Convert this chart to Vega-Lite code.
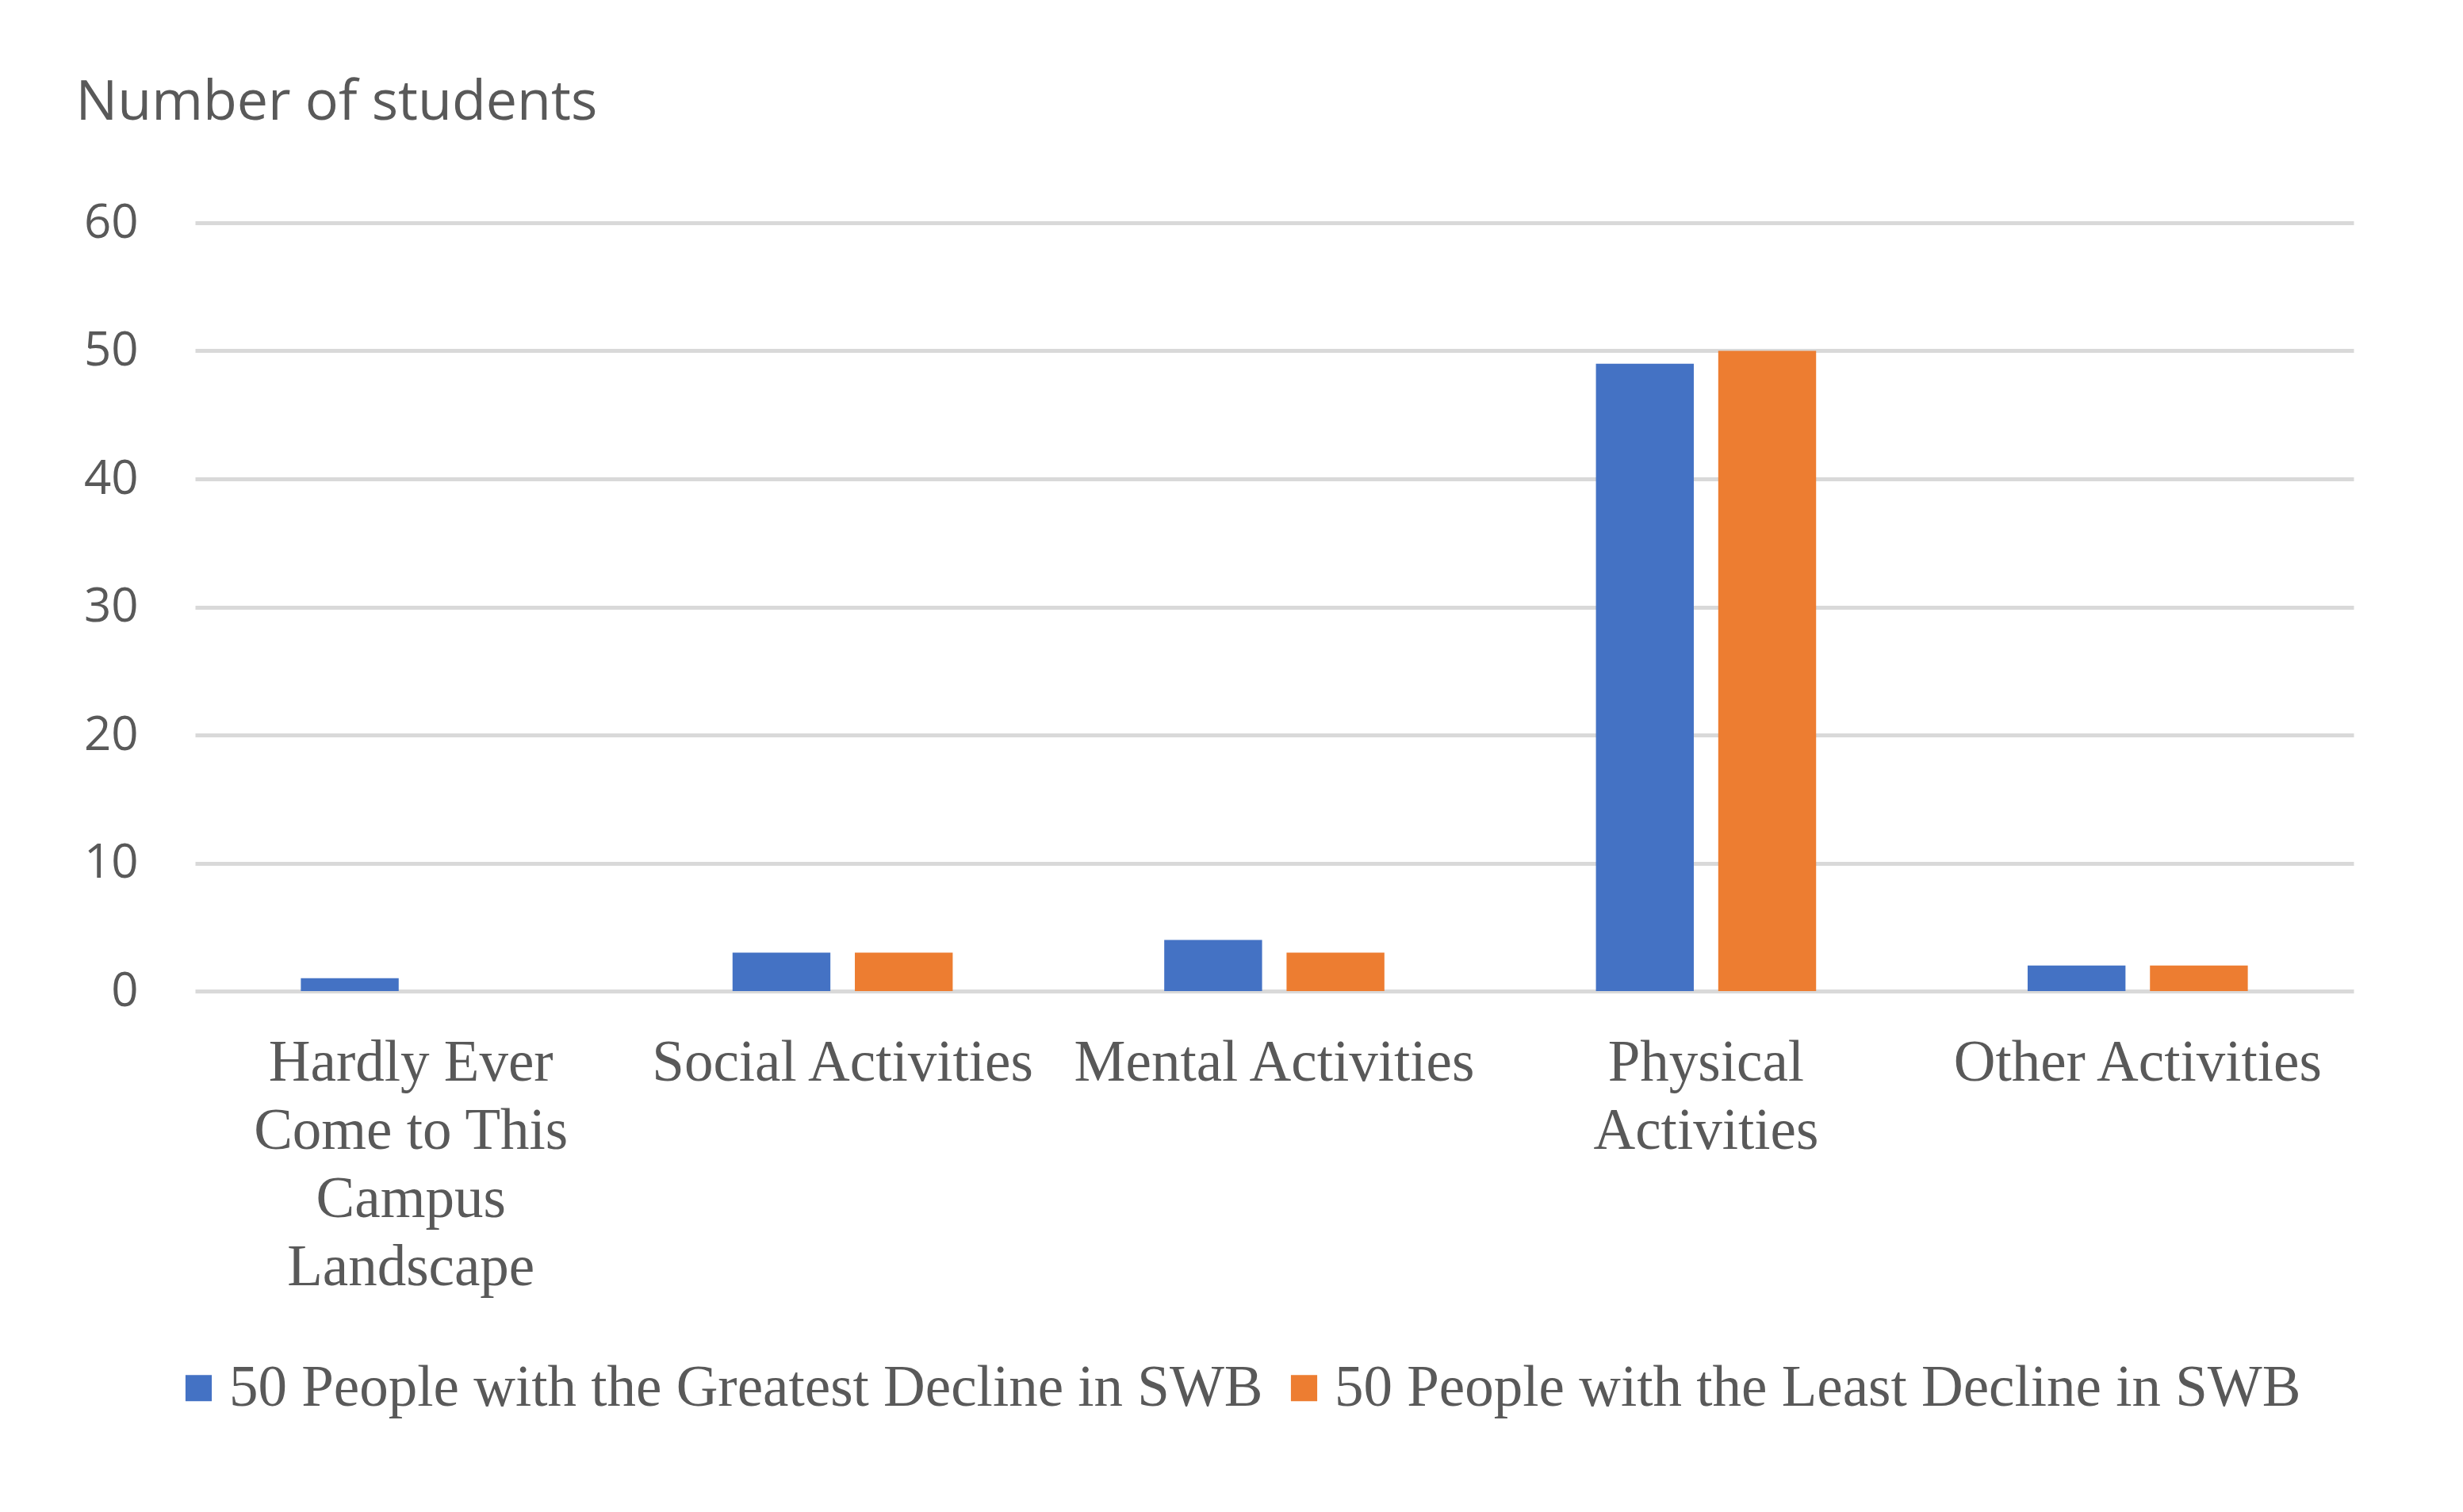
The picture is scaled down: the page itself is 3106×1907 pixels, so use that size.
{
  "$schema": "https://vega.github.io/schema/vega-lite/v6.json",
  "autosize": {"type": "none"},
  "width": 2722,
  "height": 969,
  "padding": {"left": 246, "top": 281, "right": 138, "bottom": 657},
  "background": "white",
  "data": {
    "values": [
      {"category": "Hardly Ever Come to This Campus Landscape", "group": "50 People with the Greatest Decline in SWB", "count": 1},
      {"category": "Hardly Ever Come to This Campus Landscape", "group": "50 People with the Least Decline in SWB", "count": 0},
      {"category": "Social Activities", "group": "50 People with the Greatest Decline in SWB", "count": 3},
      {"category": "Social Activities", "group": "50 People with the Least Decline in SWB", "count": 3},
      {"category": "Mental Activities", "group": "50 People with the Greatest Decline in SWB", "count": 4},
      {"category": "Mental Activities", "group": "50 People with the Least Decline in SWB", "count": 3},
      {"category": "Physical Activities", "group": "50 People with the Greatest Decline in SWB", "count": 49},
      {"category": "Physical Activities", "group": "50 People with the Least Decline in SWB", "count": 50},
      {"category": "Other Activities", "group": "50 People with the Greatest Decline in SWB", "count": 2},
      {"category": "Other Activities", "group": "50 People with the Least Decline in SWB", "count": 2}
    ]
  },
  "mark": {"type": "bar"},
  "encoding": {
    "x": {
      "field": "category",
      "type": "nominal",
      "sort": null,
      "scale": {"paddingInner": 0.49, "paddingOuter": 0.245},
      "axis": {
        "title": null,
        "labelAngle": 0,
        "labelFont": "Liberation Serif",
        "labelFontSize": 73,
        "labelColor": "#595959",
        "labelPadding": 54,
        "labelLineHeight": 86,
        "labelBaseline": "top",
        "labelLimit": 0,
        "ticks": false,
        "domain": false,
        "grid": false,
        "labelExpr": "datum.value == 'Hardly Ever Come to This Campus Landscape' ? ['Hardly Ever', 'Come to This', 'Campus', 'Landscape'] : datum.value == 'Physical Activities' ? ['Physical', 'Activities'] : datum.label"
      }
    },
    "xOffset": {
      "field": "group",
      "type": "nominal",
      "scale": {"paddingInner": 0.2, "paddingOuter": 0}
    },
    "y": {
      "field": "count",
      "type": "quantitative",
      "scale": {"domain": [0, 60], "nice": false},
      "axis": {
        "values": [0, 10, 20, 30, 40, 50, 60],
        "title": "Number of students",
        "titleAngle": 0,
        "titleAlign": "left",
        "titleBaseline": "alphabetic",
        "titleX": -151,
        "titleY": -131,
        "titleFont": "Open Sans",
        "titleFontSize": 70,
        "titleFontWeight": "normal",
        "titleColor": "#595959",
        "labelFont": "Open Sans",
        "labelFontSize": 60,
        "labelColor": "#595959",
        "labelPadding": 72,
        "ticks": false,
        "domain": false,
        "grid": true,
        "gridColor": "#D9D9D9",
        "gridWidth": 5
      }
    },
    "color": {
      "field": "group",
      "type": "nominal",
      "scale": {"range": ["#4472C4", "#ED7D31"]},
      "legend": {
        "title": null,
        "orient": "none",
        "legendX": -32,
        "legendY": 1433,
        "direction": "horizontal",
        "symbolType": "square",
        "symbolSize": 1100,
        "symbolStrokeWidth": 0,
        "labelFont": "Liberation Serif",
        "labelFontSize": 73,
        "labelColor": "#595959",
        "labelLimit": 0,
        "labelOffset": 2,
        "columnPadding": 15
      }
    }
  },
  "config": {
    "view": {"stroke": null}
  }
}
